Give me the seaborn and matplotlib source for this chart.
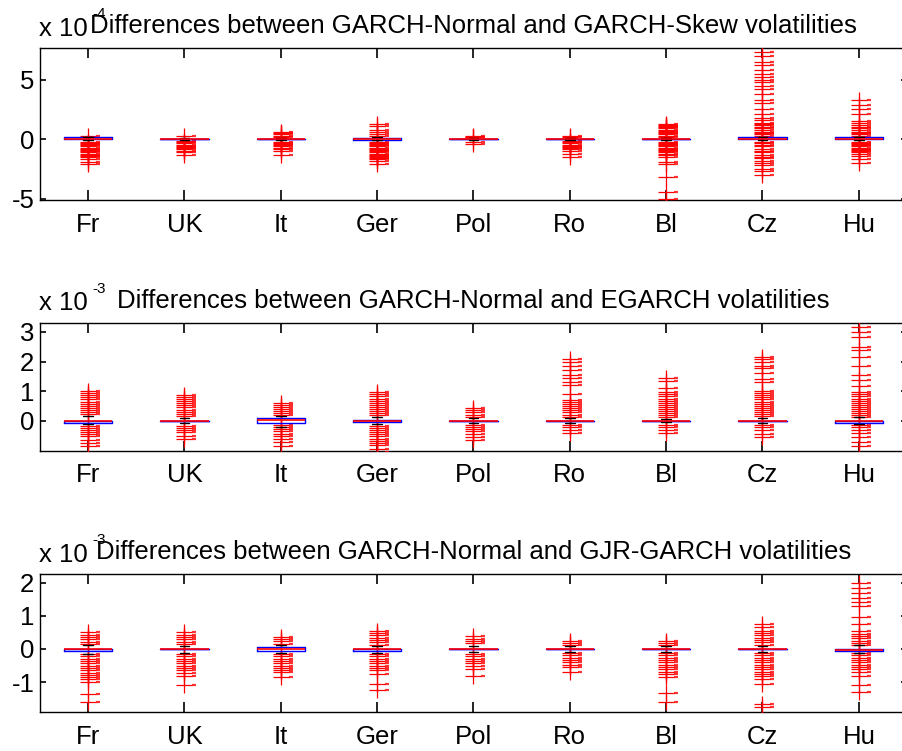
import numpy as np
import pandas as pd
import matplotlib
matplotlib.use("Agg")
import matplotlib.pyplot as plt
import matplotlib.transforms as mtransforms
import seaborn as sns

countries = ["Fr", "UK", "It", "Ger", "Pol", "Ro", "Bl", "Cz", "Hu"]

titles = ["Differences between GARCH-Normal and GARCH-Skew volatilities",
          "Differences between GARCH-Normal and EGARCH volatilities",
          "Differences between GARCH-Normal and GJR-GARCH volatilities"]
exponents = ["-4", "-3", "-3"]
ylims = [(-5.1, 7.65), (-1.02, 3.3), (-1.9, 2.26)]
yticks = [[-5, 0, 5], [0, 1, 2, 3], [-1, 0, 1, 2]]

# ---- panel 1: GARCH-Skew (x 1e-4) ----
skew_out = [
    [0.3, -0.2, -0.3, -0.4, -0.5, -0.6, -0.7, -0.8, -0.9, -1.0, -1.1, -1.2, -1.3, -1.4, -1.5, -1.7, -1.9, -2.1],
    [0.3, -0.15, -0.25, -0.35, -0.45, -0.55, -0.65, -0.75, -0.85, -0.95, -1.1, -1.3],
    [0.6, 0.5, 0.4, 0.3, 0.2, -0.2, -0.3, -0.4, -0.5, -0.6, -0.7, -0.85, -1.0, -1.3],
    [1.3, 1.1, 0.8, 0.6, 0.45, 0.3, -0.2, -0.3, -0.4, -0.5, -0.6, -0.7, -0.8, -0.9, -1.0, -1.1, -1.2, -1.3, -1.4, -1.5, -1.6, -1.7, -1.8, -2.1],
    [0.3, 0.2, 0.15, -0.2, -0.4],
    [0.3, 0.2, -0.15, -0.25, -0.35, -0.45, -0.55, -0.65, -0.75, -0.85, -1.0, -1.2, -1.5],
    [1.3, 1.2, 1.1, 1.0, 0.9, 0.8, 0.7, 0.6, 0.5, 0.4, 0.3, 0.2, -0.2, -0.3, -0.4, -0.5, -0.6, -0.7, -0.8, -0.9, -1.0, -1.1, -1.2, -1.3, -1.5, -1.9, -2.1, -3.2, -4.4, -5.0],
    [7.3, 7.0, 6.5, 6.2, 5.8, 5.5, 5.2, 5.0, 4.8, 4.5, 4.2, 3.8, 3.3, 3.0, 2.5, 2.1, 1.8, 1.6, 1.4, 1.3, 1.2, 1.0, 0.9, 0.8, 0.6, 0.5, 0.4, 0.3, -0.2, -0.3, -0.5, -0.6, -0.8, -1.0, -1.1, -1.3, -1.5, -1.6, -1.8, -2.0, -2.2, -2.5, -2.7, -3.0],
    [3.3, 2.9, 2.5, 2.1, 1.5, 1.4, 1.2, 1.0, 0.9, 0.8, 0.6, 0.5, 0.4, 0.3, -0.2, -0.3, -0.4, -0.5, -0.6, -0.7, -0.8, -0.9, -1.0, -1.1, -1.2, -1.4, -1.7, -2.0],
]
skew_q1 = [0, 0, 0, -0.05, 0, 0, 0, 0, 0]
skew_med = [0, 0, 0, 0, 0, 0, 0, 0, 0]
skew_q3 = [0.15, 0, 0, 0.14, 0, 0, 0, 0.2, 0.2]
skew_wlo = [-0.1, -0.1, -0.1, -0.1, -0.1, -0.1, -0.1, -0.1, -0.1]
skew_whi = [0.15, 0.1, 0.1, 0.15, 0.1, 0.1, 0.14, 0.2, 0.2]

# ---- panel 2: EGARCH (x 1e-3) ----
egarch_out = [
    [1.0, 0.93, 0.86, 0.79, 0.72, 0.65, 0.58, 0.51, 0.44, 0.37, 0.3, 0.23, -0.18, -0.25, -0.32, -0.39, -0.46, -0.53, -0.65, -0.75, -0.85],
    [0.87, 0.8, 0.73, 0.66, 0.59, 0.52, 0.45, 0.38, 0.31, 0.24, 0.17, -0.17, -0.24, -0.31, -0.37, -0.5, -0.62],
    [0.6, 0.53, 0.46, 0.39, 0.32, 0.25, 0.18, -0.15, -0.22, -0.29, -0.36, -0.43, -0.5, -0.6, -0.72, -0.85],
    [0.96, 0.89, 0.82, 0.75, 0.68, 0.61, 0.54, 0.47, 0.4, 0.33, 0.26, 0.19, -0.18, -0.25, -0.32, -0.39, -0.46, -0.53, -0.6, -0.67, -0.74, -0.82, -0.95, -1.05],
    [0.42, 0.35, 0.28, 0.21, 0.14, -0.15, -0.22, -0.29, -0.36, -0.43, -0.55, -0.65],
    [2.1, 1.97, 1.85, 1.7, 1.55, 1.45, 1.3, 1.2, 0.9, 0.7, 0.63, 0.56, 0.49, 0.42, 0.35, 0.28, 0.21, 0.14, -0.15, -0.22, -0.3, -0.42],
    [1.43, 1.35, 1.09, 0.96, 0.89, 0.82, 0.75, 0.68, 0.61, 0.54, 0.47, 0.4, 0.33, 0.26, 0.19, 0.12, -0.15, -0.22, -0.3, -0.4],
    [2.16, 2.08, 2.0, 1.85, 1.79, 1.6, 1.4, 1.3, 1.0, 0.93, 0.86, 0.79, 0.72, 0.65, 0.58, 0.51, 0.44, 0.37, 0.3, 0.23, 0.16, -0.15, -0.22, -0.31, -0.45, -0.55],
    [3.18, 3.0, 2.84, 2.5, 2.39, 2.16, 1.85, 1.54, 1.37, 1.18, 0.96, 0.89, 0.82, 0.75, 0.68, 0.61, 0.54, 0.47, 0.4, 0.33, 0.26, 0.19, 0.12, -0.15, -0.22, -0.31, -0.42, -0.54, -0.7, -0.85],
]
egarch_q1 = [-0.07, 0, -0.07, -0.05, 0, 0, 0, 0, -0.07]
egarch_med = [0, 0, 0.02, 0, 0, 0, 0, 0, -0.02]
egarch_q3 = [0, 0, 0.1, 0.01, 0, 0, 0, 0, 0]
egarch_wlo = [-0.11, -0.08, -0.2, -0.1, -0.08, -0.08, -0.05, -0.08, -0.1]
egarch_whi = [0.16, 0.1, 0.15, 0.12, 0.08, 0.08, 0.05, 0.08, 0.12]

# ---- panel 3: GJR-GARCH (x 1e-3) ----
gjr_out = [
    [0.5, 0.43, 0.36, 0.29, 0.22, 0.15, -0.15, -0.22, -0.29, -0.36, -0.43, -0.5, -0.57, -0.64, -0.71, -0.78, -0.85, -0.92, -1.0, -1.37, -1.6],
    [0.5, 0.43, 0.36, 0.29, 0.22, 0.15, -0.15, -0.22, -0.29, -0.36, -0.43, -0.5, -0.57, -0.64, -0.72, -0.8, -1.1],
    [0.37, 0.3, 0.23, 0.16, -0.15, -0.22, -0.29, -0.36, -0.43, -0.5, -0.57, -0.64, -0.7, -0.85],
    [0.55, 0.48, 0.41, 0.34, 0.27, 0.2, 0.13, -0.15, -0.22, -0.29, -0.36, -0.43, -0.5, -0.57, -0.64, -0.75, -1.07, -1.25],
    [0.38, 0.31, 0.24, 0.17, -0.15, -0.22, -0.29, -0.36, -0.43, -0.5, -0.6, -0.8],
    [0.25, 0.18, 0.11, -0.12, -0.19, -0.26, -0.33, -0.4, -0.47, -0.55, -0.7],
    [0.25, 0.18, 0.11, -0.12, -0.19, -0.26, -0.33, -0.4, -0.47, -0.54, -0.61, -0.68, -0.75, -0.85, -1.32, -1.6],
    [0.75, 0.65, 0.55, 0.48, 0.41, 0.34, 0.27, 0.2, 0.13, -0.12, -0.19, -0.26, -0.33, -0.4, -0.47, -0.54, -0.61, -0.68, -0.75, -0.82, -0.9, -1.05, -1.67, -1.75],
    [1.99, 1.85, 1.7, 1.55, 1.43, 1.3, 0.96, 0.75, 0.53, 0.46, 0.39, 0.32, 0.25, 0.18, 0.11, -0.12, -0.19, -0.26, -0.33, -0.4, -0.47, -0.54, -0.61, -0.68, -0.8, -1.1, -1.3],
]
gjr_q1 = [-0.06, 0, -0.06, -0.07, 0, 0, 0, 0, -0.06]
gjr_med = [0, 0, 0, 0, 0, 0, 0, 0, -0.03]
gjr_q3 = [0, 0, 0.05, 0, 0, 0, 0, 0, 0]
gjr_wlo = [-0.15, -0.12, -0.12, -0.12, -0.1, -0.1, -0.1, -0.1, -0.12]
gjr_whi = [0.12, 0.1, 0.12, 0.1, 0.1, 0.1, 0.1, 0.1, 0.12]

panels = [
    (skew_out, skew_q1, skew_med, skew_q3, skew_wlo, skew_whi),
    (egarch_out, egarch_q1, egarch_med, egarch_q3, egarch_wlo, egarch_whi),
    (gjr_out, gjr_q1, gjr_med, gjr_q3, gjr_wlo, gjr_whi),
]

sns.set_theme(style="ticks", rc={
    "text.color": "black", "axes.labelcolor": "black", "axes.edgecolor": "black",
    "xtick.color": "black", "ytick.color": "black", "axes.titlecolor": "black",
    "xtick.direction": "in", "ytick.direction": "in",
    "xtick.top": True, "xtick.bottom": True, "ytick.left": True, "ytick.right": True,
})
plt.rcParams["font.family"] = ["Liberation Sans", "DejaVu Sans"]

fig = plt.figure(figsize=(9.03, 7.51), dpi=100)
W, H = 903.0, 751.0
boxes = [(48, 200), (323, 451), (574, 712)]
left, right = 40.0, 907.0
FS = 18.5

for i, (top, bot) in enumerate(boxes):
    ax = fig.add_axes([left / W, 1 - bot / H, (right - left) / W, (bot - top) / H])
    out, q1, med, q3, wlo, whi = panels[i]
    df = pd.DataFrame({
        "country": [c for c, vals in zip(countries, out) for _ in vals],
        "value": [v for vals in out for v in vals],
    })
    # outliers as red '+'
    sns.stripplot(data=df, x="country", y="value", order=countries, jitter=False,
                  marker="+", color="red", size=11.5, linewidth=0.9, ax=ax, zorder=3)
    # small red dashes to the right of each '+'
    shift = mtransforms.ScaledTranslation(10 / 100.0, 0, fig.dpi_scale_trans)
    sns.stripplot(data=df, x="country", y="value", order=countries, jitter=False,
                  marker="_", color="red", size=3.5, linewidth=1.6, ax=ax,
                  transform=ax.transData + shift, zorder=3, alpha=0.8)
    stats = [dict(q1=q1[k], med=med[k], q3=q3[k], whislo=wlo[k], whishi=whi[k], fliers=[])
             for k in range(len(countries))]
    ax.bxp(stats, positions=np.arange(len(countries)), widths=0.5, showfliers=False,
           boxprops=dict(color="blue", linewidth=1.0, zorder=4),
           medianprops=dict(color="red", linewidth=1.2, zorder=5),
           whiskerprops=dict(color="black", linewidth=0.8, linestyle="--", zorder=2),
           capprops=dict(color="black", linewidth=1.0, zorder=4), capwidths=0.1,
           manage_ticks=False)
    ax.set_xlim(-0.5, len(countries) - 0.5)
    ax.set_ylim(*ylims[i])
    ax.set_yticks(yticks[i])
    ax.set_yticklabels([str(t) for t in yticks[i]])
    ax.set_xticks(np.arange(len(countries)))
    ax.set_xticklabels(countries)
    ax.set_xlabel("")
    ax.set_ylabel("")
    ax.tick_params(axis="x", which="major", direction="in", length=7, width=1.2,
                   top=True, bottom=True, labelsize=FS, pad=9, color="black",
                   labelcolor="black")
    ax.tick_params(axis="y", which="major", direction="in", length=4, width=1.2,
                   left=True, right=True, labelsize=FS, pad=4, color="black",
                   labelcolor="black")
    for s in ax.spines.values():
        s.set_color("black")
        s.set_linewidth(1.0)
        s.set_visible(True)
    ax.set_title(titles[i], fontsize=FS, pad=11, color="black")
    ax.annotate("x 10", xy=(0, 1), xycoords="axes fraction", xytext=(-1, 9),
                textcoords="offset points", ha="left", va="baseline", fontsize=FS,
                color="black")
    ax.annotate(exponents[i], xy=(0, 1), xycoords="axes fraction", xytext=(37.5, 21.5),
                textcoords="offset points", ha="left", va="baseline", fontsize=11,
                color="black")

fig.savefig("out.png", dpi=100)
